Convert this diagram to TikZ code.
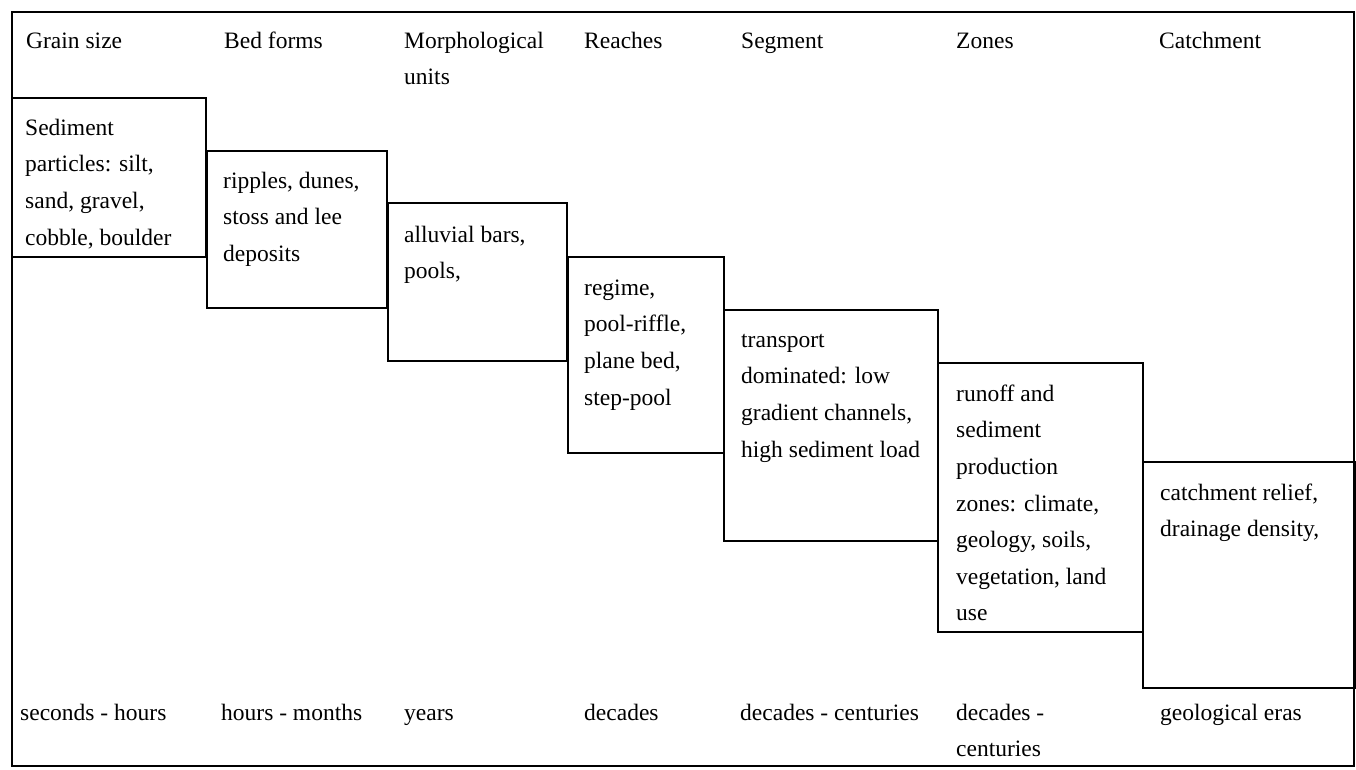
\documentclass[tikz,border=0pt]{standalone}
\usepackage{fontspec}
\setmainfont{Liberation Serif}
\begin{document}
\begin{tikzpicture}[x=1pt,y=-1pt,
  box/.style={draw=black, line width=2.5pt},
  frame/.style={draw=black, line width=1.8pt},
  lbl/.style={anchor=north west, inner sep=0pt, align=left, yshift=25.62pt,
    font=\fontsize{23.5}{36.6}\selectfont},
]
\useasboundingbox (0,0) rectangle (1356,770);
\draw[frame] (12,12) rectangle (1354,766);
% boxes
\draw[box] (12,98) rectangle (206,257);
\draw[box] (207,151) rectangle (387,308);
\draw[box] (388,203) rectangle (567,361);
\draw[box] (568,257) rectangle (724,453);
\draw[box] (724,310) rectangle (938,541);
\draw[box] (938,363) rectangle (1143,632);
\draw[box] (1143,462) rectangle (1355,688);
% headers
\node[lbl] (h1) at (26,48) {\strut Grain size};
\node[lbl] (h2) at (224,48) {\strut Bed forms};
\node[lbl] (h3) at (404,48) {\strut Morphological\\units};
\node[lbl] (h4) at (584,48) {\strut Reaches};
\node[lbl] (h5) at (741,48) {\strut Segment};
\node[lbl] (h6) at (956,48) {\strut Zones};
\node[lbl] (h7) at (1159,48) {\strut Catchment};
% box texts
\node[lbl] (t1) at (25,135) {\strut Sediment\\particles: silt,\\sand, gravel,\\cobble, boulder};
\node[lbl] (t2) at (223,188) {\strut ripples, dunes,\\stoss and lee\\deposits};
\node[lbl] (t3) at (404,242) {\strut alluvial bars,\\pools,};
\node[lbl] (t4) at (584,295) {\strut regime,\\pool-riffle,\\plane bed,\\step-pool};
\node[lbl] (t5) at (741,347) {\strut transport\\dominated: low\\gradient channels,\\high sediment load};
\node[lbl] (t6) at (956,401) {\strut runoff and\\sediment\\production\\zones: climate,\\geology, soils,\\vegetation, land\\use};
\node[lbl] (t7) at (1160,500) {\strut catchment relief,\\drainage density,};
% time scales
\node[lbl] (s1) at (20,720) {\strut seconds - hours};
\node[lbl] (s2) at (221,720) {\strut hours - months};
\node[lbl] (s3) at (404,720) {\strut years};
\node[lbl] (s4) at (584,720) {\strut decades};
\node[lbl] (s5) at (740,720) {\strut decades - centuries};
\node[lbl] (s6) at (956,720) {\strut decades -\\centuries};
\node[lbl] (s7) at (1160,720) {\strut geological eras};
\end{tikzpicture}
\end{document}
